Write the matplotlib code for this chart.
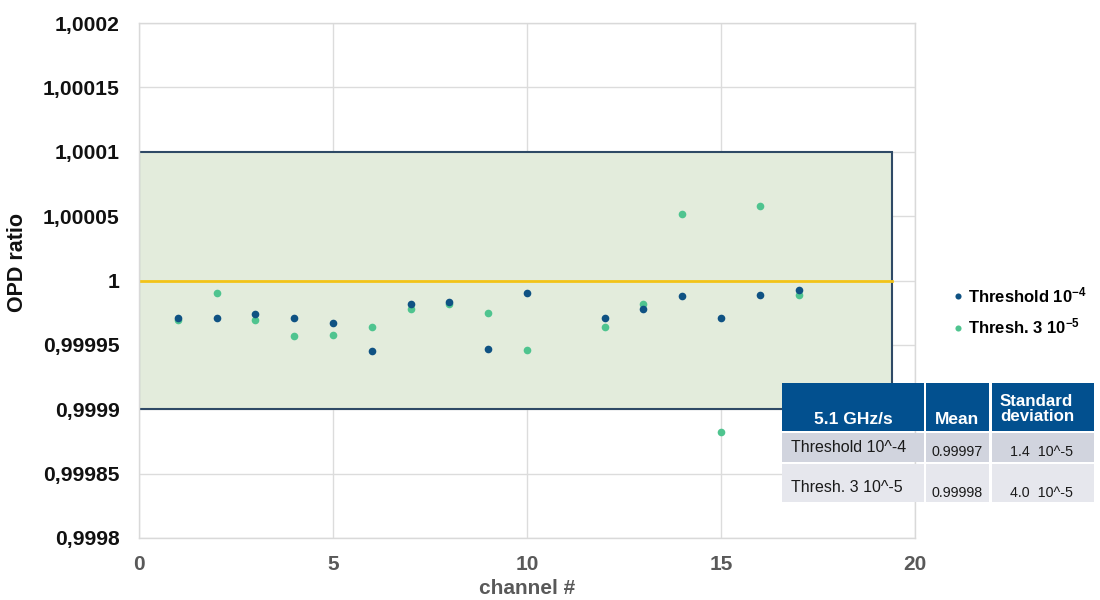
import matplotlib
matplotlib.use("Agg")
import matplotlib.pyplot as plt
from matplotlib.patches import Rectangle
from matplotlib.ticker import FixedLocator, FixedFormatter

plt.rcParams['font.family'] = ['Liberation Sans', 'DejaVu Sans']
plt.rcParams['mathtext.fontset'] = 'custom'
plt.rcParams['mathtext.rm'] = 'Liberation Sans:bold'
plt.rcParams['mathtext.bf'] = 'Liberation Sans:bold'
plt.rcParams['mathtext.default'] = 'bf'

# ---------------- data ----------------
channels = [1, 2, 3, 4, 5, 6, 7, 8, 9, 10, 12, 13, 14, 15, 16, 17]
thr_1e4 = [0.999971, 0.999971, 0.999974, 0.999971, 0.999967, 0.999945, 0.999982, 0.999983,
           0.999947, 0.999990, 0.999971, 0.999978, 0.999988, 0.999971, 0.999989, 0.999993]
thr_3e5 = [0.999969, 0.999990, 0.999969, 0.999957, 0.999958, 0.999964, 0.999978, 0.999982,
           0.999975, 0.999946, 0.999964, 0.999982, 1.000052, 0.999882, 1.000058, 0.999989]
series_labels = [r'Threshold 10$^{-4}$', r'Thresh. 3 10$^{-5}$']

band_x = [0, 19.4]
band_y = [0.9999, 1.0001]
ref_level = 1.0

xticks = [0, 5, 10, 15, 20]
xtick_labels = ['0', '5', '10', '15', '20']
yticks = [0.9998, 0.99985, 0.9999, 0.99995, 1.0, 1.00005, 1.0001, 1.00015, 1.0002]
ytick_labels = ['0,9998', '0,99985', '0,9999', '0,99995', '1', '1,00005', '1,0001', '1,00015', '1,0002']

table_header = ['5.1 GHz/s', 'Mean', 'Standard\ndeviation']
table_rows = [['Threshold 10^-4', '0.99997', '1.4  10^-5'],
              ['Thresh. 3 10^-5', '0.99998', '4.0  10^-5']]

# ---------------- figure ----------------
W, H = 1100, 600
fig = plt.figure(figsize=(11, 6), dpi=100)
ax = fig.add_axes([139 / W, 1 - 538 / H, (915 - 139) / W, (538 - 23) / H])

ax.set_xlim(0, 20)
ax.set_ylim(0.9998, 1.0002)

ax.add_patch(Rectangle((band_x[0], band_y[0]), band_x[1] - band_x[0], band_y[1] - band_y[0],
                       facecolor='#e3ecdc', edgecolor='#2f4a66', linewidth=1.5, zorder=1))
ax.plot(band_x, [ref_level, ref_level], color='#f2c318', linewidth=2, zorder=2)

c_dark = '#0f5283'
c_green = '#4fc48f'
ax.plot(channels, thr_1e4, 'o', color=c_dark, markersize=5.5, markeredgewidth=0,
        label=series_labels[0], zorder=4)
ax.plot(channels, thr_3e5, 'o', color=c_green, markersize=5.5, markeredgewidth=0,
        label=series_labels[1], zorder=3)

ax.xaxis.set_major_locator(FixedLocator(xticks))
ax.xaxis.set_major_formatter(FixedFormatter(xtick_labels))
ax.yaxis.set_major_locator(FixedLocator(yticks))
ax.yaxis.set_major_formatter(FixedFormatter(ytick_labels))
ax.grid(True, color='#dcdcdc', linewidth=1, zorder=0)
ax.set_axisbelow(True)
for s in ax.spines.values():
    s.set_color('#d9d9d9')
    s.set_linewidth(1)
ax.tick_params(length=0)
ax.tick_params(axis='y', pad=14, labelsize=15.2, labelcolor='#111111')
ax.tick_params(axis='x', pad=12, labelsize=15, labelcolor='#595959')
for lab in ax.get_xticklabels() + ax.get_yticklabels():
    lab.set_fontweight('bold')

ax.set_xlabel('channel #', fontsize=15, fontweight='bold', color='#595959')
ax.xaxis.set_label_coords(0.5, -0.08)
ax.set_ylabel('OPD ratio', fontsize=15.5, fontweight='bold', color='#111111')
ax.yaxis.set_label_coords(-0.143, 0.535)

leg = fig.legend(loc='center left', bbox_to_anchor=(953 / W, 1 - 311 / H), frameon=False,
                 prop={'weight': 'bold', 'size': 12}, handlelength=0.6, handletextpad=0.3,
                 labelspacing=0.7, borderpad=0, borderaxespad=0, markerscale=0.8)

# ---------------- table ----------------
cols = [(782, 924), (926, 989), (992, 1094)]
rows = [(383, 431), (433, 462), (464, 502)]
hdr_color = '#02508f'
row_colors = ['#d1d4de', '#e6e7ed']

def fx(px):
    return px / W

def fy(py):
    return 1 - py / H

for ci, (x0, x1) in enumerate(cols):
    fig.patches.append(Rectangle((fx(x0), fy(rows[0][1])), fx(x1 - x0), (rows[0][1] - rows[0][0]) / H,
                                 transform=fig.transFigure, facecolor=hdr_color, edgecolor='none', zorder=5))
    for ri in range(2):
        y0, y1 = rows[ri + 1]
        fig.patches.append(Rectangle((fx(x0), fy(y1)), fx(x1 - x0), (y1 - y0) / H,
                                     transform=fig.transFigure, facecolor=row_colors[ri],
                                     edgecolor='none', zorder=5))

# header texts
fig.text(fx(853), fy(419), table_header[0], ha='center', va='center', color='white',
         fontsize=12.5, fontweight='bold', zorder=6)
fig.text(fx(957), fy(419), table_header[1], ha='center', va='center', color='white',
         fontsize=12.5, fontweight='bold', zorder=6)
fig.text(fx(1000), fy(409), table_header[2], ha='left', va='center', color='white',
         fontsize=12.2, fontweight='bold', linespacing=1.05, zorder=6)

# body texts
row_y_first = [447, 487]
row_y_other = [452, 493]
for ri, row in enumerate(table_rows):
    fig.text(fx(791), fy(row_y_first[ri]), row[0], ha='left', va='center', color='#1a1a1a',
             fontsize=11.5, zorder=6)
    fig.text(fx(931), fy(row_y_other[ri]), row[1], ha='left', va='center', color='#1a1a1a',
             fontsize=10.3, zorder=6)
    fig.text(fx(1010), fy(row_y_other[ri]), row[2], ha='left', va='center', color='#1a1a1a',
             fontsize=10.3, zorder=6)

fig.savefig('out.png', dpi=100, facecolor='white')
